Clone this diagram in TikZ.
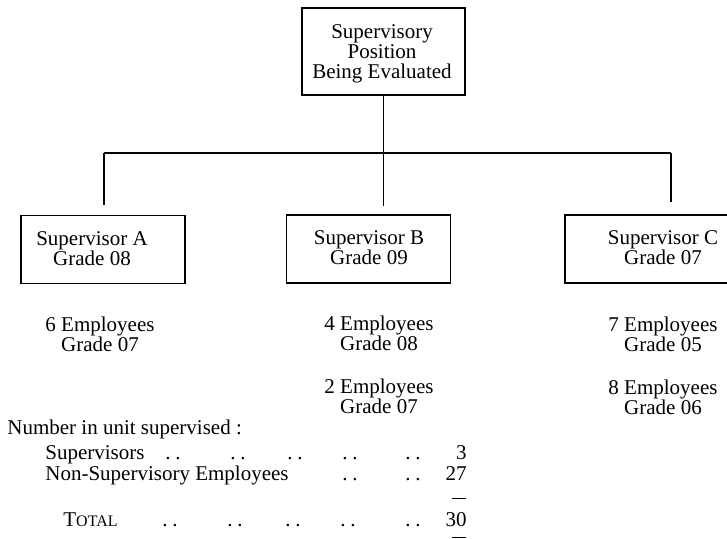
\documentclass[tikz,border=0pt]{standalone}
\usepackage{fontspec}
\setmainfont{Liberation Serif}
\usetikzlibrary{positioning}

\newcommand{\ld}{.\hspace{2.4pt}.}
\newcommand{\capword}[2]{#1{\fontsize{8}{8}\selectfont #2}}

\tikzset{
	unitbox/.style={draw, line width=0.8pt, inner sep=0pt, minimum width=82pt, minimum height=34pt},
	staff/.style={align=center, inner sep=0pt},
	link/.style={line width=0.8pt},
	row/.style={anchor=base west, inner sep=0pt},
	num/.style={anchor=base east, inner sep=0pt},
	leader/.style={anchor=base, inner sep=0pt},
}

\begin{document}
\begin{tikzpicture}[x=0.5pt, y=-0.5pt, font=\fontsize{10.5}{10}\selectfont]
			\useasboundingbox (0,0) rectangle (727,538);
			% boxes
			\node [unitbox, minimum width=81.5pt, minimum height=43.5pt] (post) at (383.5,51.5) {};
			\node [unitbox] (boxA) at (103,249.5) {};
			\node [unitbox] (boxB) at (368.5,249) {};
			\node [unitbox] (boxC) at (647,249) {};
			\node [staff] (postname) at (382,54) {Supervisory\\Position\\Being Evaluated};
			\node [staff] (supA) at (92,249) {Supervisor A\\Grade 08};
			\node [staff] (supB) at (369,248) {Supervisor B\\Grade 09};
			\node [staff] (supC) at (663,248) {Supervisor C\\Grade 07};
			% staff under each supervisor
			\node [staff] (empA) at (100,334) {6 Employees\\Grade 07};
			\node [staff] (empB) at (379,333) {4 Employees\\Grade 08};
			\node [staff, below=14pt of empB] (empBB) {2 Employees\\Grade 07};
			\node [staff] (empC) at (663,334) {7 Employees\\Grade 05};
			\node [staff, below=14pt of empC] (empCC) {8 Employees\\Grade 06};
			% lines
			\coordinate (barA) at (104,153);
			\coordinate (barC) at (671,153);
			\draw [link] (barA) -- (barC);
			\draw [link, shorten >=4pt] (post.south) -- (post.south |- boxB.north);
			\draw [link, shorten >=5pt] (barA) -- (barA |- boxA.north);
			\draw [link, shorten >=6pt] (barC) -- (barC |- boxC.north);
			% count
			\node [row] (count) at (7,434) {Number in unit supervised :};
			\node [row] (rowsup) at (45,459) {Supervisors};
			\node [row] (rownon) at (45,480) {Non-Supervisory Employees};
			\node [row] (rowtot) at (63,526) {\capword{T}{OTAL}};
			\foreach \x in {173,238,295,350,413}
				\node [leader] (dsup\x) at (\x,459) {\ld};
			\foreach \x in {350,413}
				\node [leader] (dnon\x) at (\x,480) {\ld};
			\foreach \x in {170,235,293,348,413}
				\node [leader] (dtot\x) at (\x,526) {\ld};
			\node [num] (numsup) at (467,459) {3};
			\node [num] (numnon) at (467,480) {27};
			\node [num] (numtot) at (467,526) {30};
			\draw (452,498) -- (466,498);
			\draw (452,537) -- (466,537);
\end{tikzpicture}
\end{document}
